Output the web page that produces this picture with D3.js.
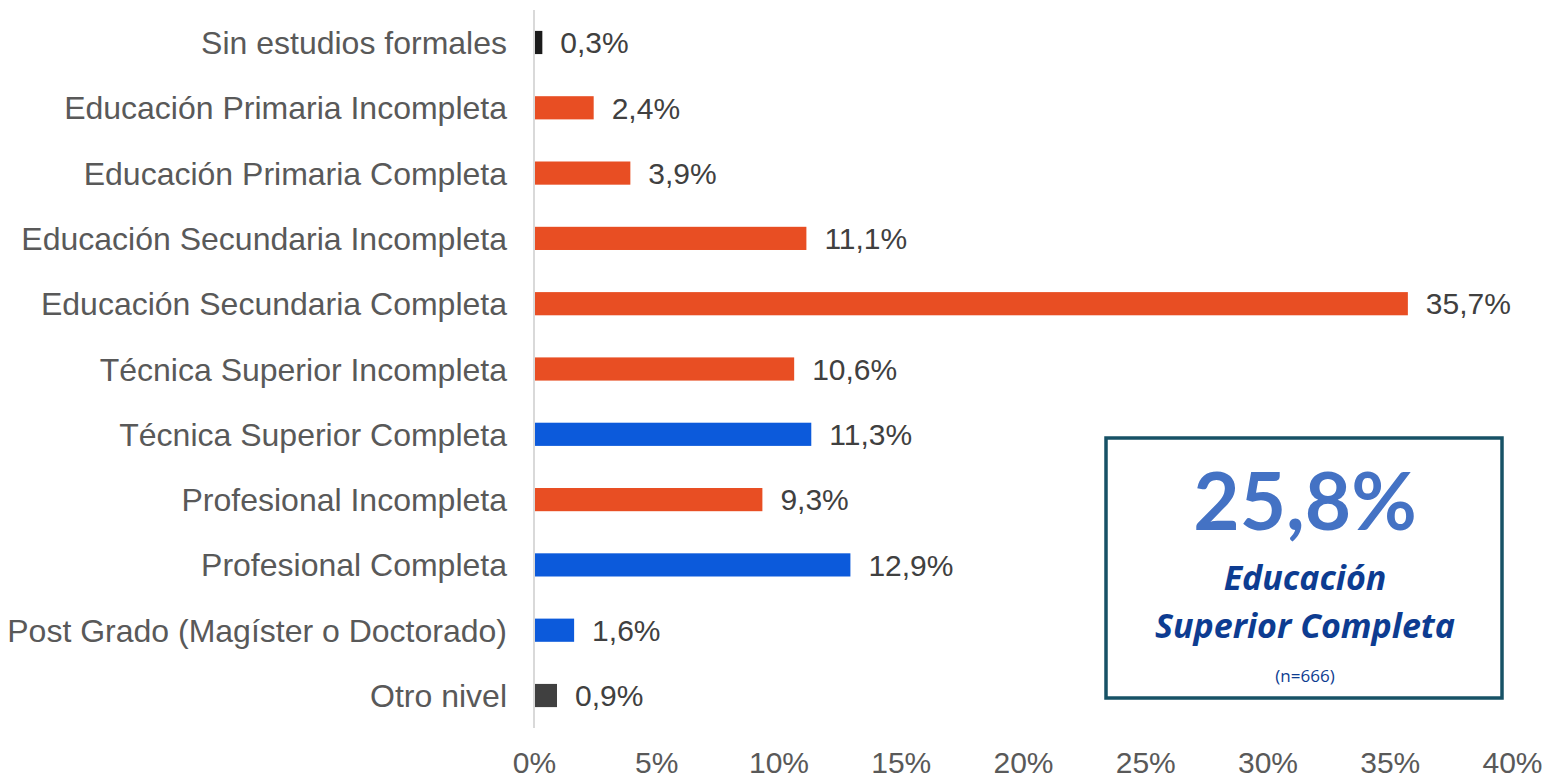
<!DOCTYPE html>
<html>
<head>
<meta charset="utf-8">
<script src="https://cdn.jsdelivr.net/npm/d3@7"></script>
<style>
  body { margin: 0; background: #fff; }
  svg text { font-family: "Liberation Sans", Arial, sans-serif; }
</style>
</head>
<body>
<svg id="chart"></svg>
<script>
const categories = [
  "Sin estudios formales",
  "Educación Primaria Incompleta",
  "Educación Primaria Completa",
  "Educación Secundaria Incompleta",
  "Educación Secundaria Completa",
  "Técnica Superior Incompleta",
  "Técnica Superior Completa",
  "Profesional Incompleta",
  "Profesional Completa",
  "Post Grado (Magíster o Doctorado)",
  "Otro nivel"
];
const values = [0.3, 2.4, 3.9, 11.1, 35.7, 10.6, 11.3, 9.3, 12.9, 1.6, 0.9];
const groups = ["none", "inc", "inc", "inc", "inc", "inc", "sup", "inc", "sup", "sup", "other"];
const ticks = [0, 5, 10, 15, 20, 25, 30, 35, 40];
const highlight = { value: "25,8%", line1: "Educación", line2: "Superior Completa", n: "(n=666)" };

const colours = { none: "#1b1b1b", inc: "#e84e23", sup: "#0c5adb", other: "#404040" };
const fmt = v => v.toFixed(1).replace(".", ",") + "%";

const W = 1548, H = 780;
const margin = { top: 10, right: 36, bottom: 52, left: 534 };
const width = W - margin.left - margin.right;
const height = H - margin.top - margin.bottom;

const svg = d3.select("#chart").attr("width", W).attr("height", H);
const chart = svg.append("g").attr("transform", `translate(${margin.left}, ${margin.top})`);

const x = d3.scaleLinear().domain([0, 40]).range([0, 978]);
const y = d3.scaleBand().domain(categories).range([0, height]).paddingInner(0.645).paddingOuter(0.32);

chart.selectAll(".bar")
  .data(values)
  .enter()
  .append("rect")
  .attr("class", "bar")
  .attr("x", x(0) + 1)
  .attr("y", (d, i) => y(categories[i]))
  .attr("width", d => x(d))
  .attr("height", y.bandwidth())
  .style("fill", (d, i) => colours[groups[i]]);

// vertical axis line
chart.append("line")
  .attr("x1", x(0)).attr("x2", x(0))
  .attr("y1", 0).attr("y2", height)
  .attr("stroke", "#d9d9d9").attr("stroke-width", 2);

// category labels
chart.selectAll(".cat")
  .data(categories)
  .enter()
  .append("text")
  .attr("x", -27)
  .attr("y", d => y(d) + y.bandwidth() / 2)
  .attr("dy", "0.36em")
  .style("text-anchor", "end")
  .style("font-size", "32px")
  .style("fill", "#595959")
  .text(d => d);

// value labels
chart.selectAll(".val")
  .data(values)
  .enter()
  .append("text")
  .attr("x", d => x(d) + 19)
  .attr("y", (d, i) => y(categories[i]) + y.bandwidth() / 2)
  .attr("dy", "0.36em")
  .style("font-size", "30px")
  .style("fill", "#404040")
  .text(d => fmt(d));

// x axis
const xAxis = d3.axisBottom(x).tickValues(ticks).tickFormat(d => d + "%").tickSize(0).tickPadding(0);
const gx = chart.append("g")
  .attr("transform", `translate(0, ${height})`)
  .call(xAxis);
gx.select(".domain").remove();
gx.selectAll(".tick text")
  .attr("y", 45)
  .attr("dy", 0)
  .style("font-family", "'Liberation Sans', Arial, sans-serif")
  .style("font-size", "30px")
  .style("fill", "#595959");

// highlight box
const box = svg.append("g").attr("transform", "translate(1106, 438)");
box.append("rect")
  .attr("width", 396).attr("height", 260)
  .attr("fill", "#fff")
  .attr("stroke", "#175266").attr("stroke-width", 3.5);
box.append("text")
  .attr("x", 199).attr("y", 92)
  .style("text-anchor", "middle")
  .style("font-family", "Lato, 'Open Sans', sans-serif")
  .style("font-weight", "bold")
  .style("font-size", "80px")
  .style("fill", "#4472c4")
  .text(highlight.value);
box.append("text")
  .attr("x", 199).attr("y", 152)
  .style("text-anchor", "middle")
  .style("font-family", "'Open Sans', Lato, sans-serif")
  .style("font-weight", "bold").style("font-style", "italic")
  .style("font-size", "34px")
  .style("fill", "#0d3c91")
  .text(highlight.line1);
box.append("text")
  .attr("x", 199).attr("y", 200)
  .style("text-anchor", "middle")
  .style("font-family", "'Open Sans', Lato, sans-serif")
  .style("font-weight", "bold").style("font-style", "italic")
  .style("font-size", "34px")
  .style("fill", "#0d3c91")
  .text(highlight.line2);
box.append("text")
  .attr("x", 199).attr("y", 244)
  .style("text-anchor", "middle")
  .style("font-family", "'Open Sans', Lato, sans-serif")
  .style("font-size", "17px")
  .style("fill", "#0d3c91")
  .text(highlight.n);
</script>
</body>
</html>
